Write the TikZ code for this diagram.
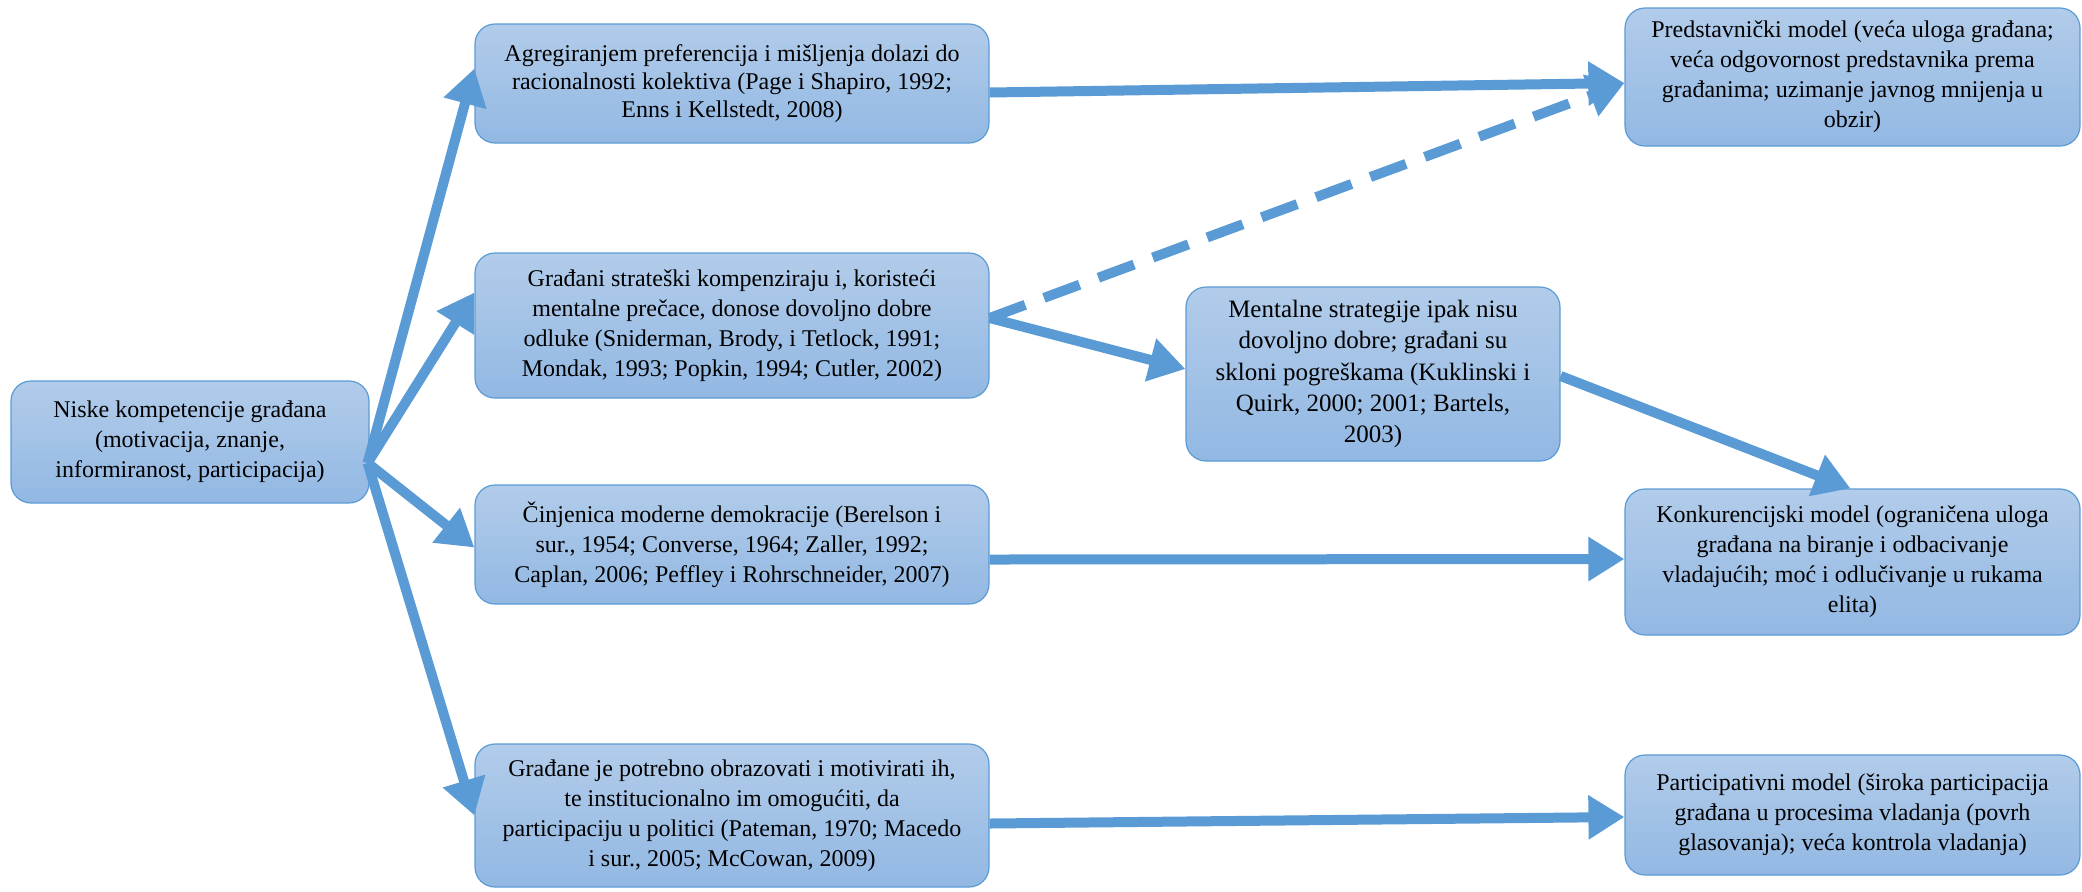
\documentclass[tikz,border=0pt]{standalone}
\usepackage{fontspec}
\setmainfont{Liberation Serif}
\usetikzlibrary{arrows.meta}
\definecolor{boxtop}{RGB}{178,204,234}
\definecolor{boxbot}{RGB}{146,184,227}
\definecolor{edgeblue}{RGB}{91,155,213}
\begin{document}
\begin{tikzpicture}[x=0.5pt,y=-0.5pt,
  box/.style={draw=edgeblue, line width=0.6pt, rounded corners=10pt,
    top color=boxtop, bottom color=boxbot, align=center,
    font=\fontsize{12}{15}\selectfont, inner sep=0pt},
  conn/.style={draw=edgeblue, line width=5pt, -{Triangle[length=18pt,width=21pt]}},
  dconn/.style={conn, dash pattern=on 19pt off 10pt}]
\useasboundingbox (0,0) rectangle (2082,891);

\node[box, minimum width=179pt, minimum height=61pt] (L) at (190,442)
  {Niske kompetencije građana\\(motivacija, znanje,\\informiranost, participacija)};

\node[box, minimum width=257pt, minimum height=59.5pt, font=\fontsize{12}{14}\selectfont] (A) at (732,83.5)
  {Agregiranjem preferencija i mišljenja dolazi do\\racionalnosti kolektiva (Page i Shapiro, 1992;\\Enns i Kellstedt, 2008)};
\node[box, minimum width=257pt, minimum height=72.5pt] (B) at (732,325.5)
  {Građani strateški kompenziraju i, koristeći\\mentalne prečace, donose dovoljno dobre\\odluke (Sniderman, Brody, i Tetlock, 1991;\\Mondak, 1993; Popkin, 1994; Cutler, 2002)};
\node[box, minimum width=257pt, minimum height=59.5pt] (C) at (732,544.5)
  {Činjenica moderne demokracije (Berelson i\\sur., 1954; Converse, 1964; Zaller, 1992;\\Caplan, 2006; Peffley i Rohrschneider, 2007)};
\node[box, minimum width=257pt, minimum height=71.5pt] (D) at (732,815.5)
  {Građane je potrebno obrazovati i motivirati ih,\\te institucionalno im omogućiti, da\\participaciju u politici (Pateman, 1970; Macedo\\i sur., 2005; McCowan, 2009)};

\node[box, minimum width=187pt, minimum height=87pt, font=\fontsize{12.5}{15.6}\selectfont] (M) at (1373,374)
  {Mentalne strategije ipak nisu\\dovoljno dobre; građani su\\skloni pogreškama (Kuklinski i\\Quirk, 2000; 2001; Bartels,\\2003)};

\node[box, minimum width=227.5pt, minimum height=69pt] (R1) at (1852.5,77)
  {Predstavnički model (veća uloga građana;\\veća odgovornost predstavnika prema\\građanima; uzimanje javnog mnijenja u\\obzir)};
\node[box, minimum width=227.5pt, minimum height=73pt] (R2) at (1852.5,562)
  {Konkurencijski model (ograničena uloga\\građana na biranje i odbacivanje\\vladajućih; moć i odlučivanje u rukama\\elita)};
\node[box, minimum width=227.5pt, minimum height=60pt] (R3) at (1852.5,815)
  {Participativni model (široka participacija\\građana u procesima vladanja (povrh\\glasovanja); veća kontrola vladanja)};

\coordinate (o) at ([xshift=-1pt,yshift=-10.5pt]L.east);

\draw[conn] (o) -- ([yshift=7.5pt]A.west);
\draw[conn] (o) -- ([yshift=16.5pt]B.west);
\draw[conn] (o) -- ([yshift=-1.5pt]C.west);
\draw[conn] (o) -- (D.west);

\draw[conn] ([yshift=-4.5pt]A.east) -- ([yshift=-3pt]R1.west);
\draw[dconn] ([yshift=3.75pt]B.east) -- ([yshift=-3pt]R1.west);
\draw[conn] ([yshift=3.75pt]B.east) -- ([yshift=2.5pt]M.west);
\draw[conn] ([yshift=-1pt]M.east) -- ([xshift=-1pt]R2.north);
\draw[conn] ([yshift=-7.5pt]C.east) -- ([yshift=1.5pt]R2.west);
\draw[conn] ([yshift=-4pt]D.east) -- ([yshift=-1pt]R3.west);
\end{tikzpicture}
\end{document}
